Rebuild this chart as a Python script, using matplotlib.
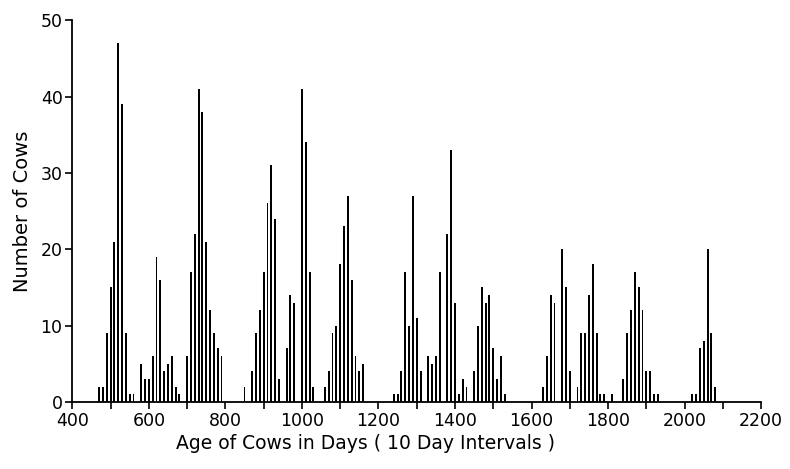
import matplotlib.pyplot as plt
import numpy as np

# age class (days, 10 day intervals) and number of cows
days = [470, 480, 490, 500, 510, 520, 530, 540, 550, 560,
        580, 590, 600, 610, 620, 630, 640, 650, 660, 670, 680,
        700, 710, 720, 730, 740, 750, 760, 770, 780, 790,
        850, 870, 880, 890, 900, 910, 920, 930, 940,
        960, 970, 980, 1000, 1010, 1020, 1030,
        1060, 1070, 1080, 1090, 1100, 1110, 1120, 1130, 1140, 1150, 1160,
        1240, 1250, 1260, 1270, 1280, 1290, 1300, 1310,
        1330, 1340, 1350, 1360, 1380, 1390, 1400, 1410, 1420, 1430,
        1450, 1460, 1470, 1480, 1490, 1500, 1510, 1520, 1530,
        1630, 1640, 1650, 1660, 1680, 1690, 1700,
        1720, 1730, 1740, 1750, 1760, 1770, 1780, 1790, 1810,
        1840, 1850, 1860, 1870, 1880, 1890, 1900, 1910, 1920, 1930,
        2020, 2030, 2040, 2050, 2060, 2070, 2080]
counts = [2, 2, 9, 15, 21, 47, 39, 9, 1, 1,
          5, 3, 3, 6, 19, 16, 4, 5, 6, 2, 1,
          6, 17, 22, 41, 38, 21, 12, 9, 7, 6,
          2, 4, 9, 12, 17, 26, 31, 24, 3,
          7, 14, 13, 41, 34, 17, 2,
          2, 4, 9, 10, 18, 23, 27, 16, 6, 4, 5,
          1, 1, 4, 17, 10, 27, 11, 4,
          6, 5, 6, 17, 22, 33, 13, 1, 3, 2,
          4, 10, 15, 13, 14, 7, 3, 6, 1,
          2, 6, 14, 13, 20, 15, 4,
          2, 9, 9, 14, 18, 9, 1, 1, 1,
          3, 9, 12, 17, 15, 12, 4, 4, 1, 1,
          1, 1, 7, 8, 20, 9, 2]

xticks = [400, 600, 800, 1000, 1200, 1400, 1600, 1800, 2000, 2200]
yticks = [0, 10, 20, 30, 40, 50]


def plot_cows():
    fig = plt.figure(figsize=(7.9, 4.69), dpi=100)
    ax = fig.add_axes([0.0915, 0.143, 0.872, 0.814])

    ax.bar(days, counts, width=5, color='black', linewidth=0)

    ax.set_xlim(400, 2200)
    ax.set_ylim(0, 50)
    ax.set_xticks(xticks)
    ax.set_xticks(np.arange(500, 2200, 200), minor=True)
    ax.set_yticks(yticks)

    for side in ['top', 'right']:
        ax.spines[side].set_visible(False)
    for side in ['left', 'bottom']:
        ax.spines[side].set_linewidth(1.3)

    ax.tick_params(which='both', direction='out', length=5, width=1.2,
                   labelsize=12.5, pad=2)
    ax.set_xlabel('Age of Cows in Days ( 10 Day Intervals )', fontsize=13.5, labelpad=3)
    ax.xaxis.set_label_coords(0.425, -0.085)
    ax.set_ylabel('Number of Cows', fontsize=14, labelpad=6)

    fig.savefig('out.png', dpi=100)


if __name__ == '__main__':
    plot_cows()
